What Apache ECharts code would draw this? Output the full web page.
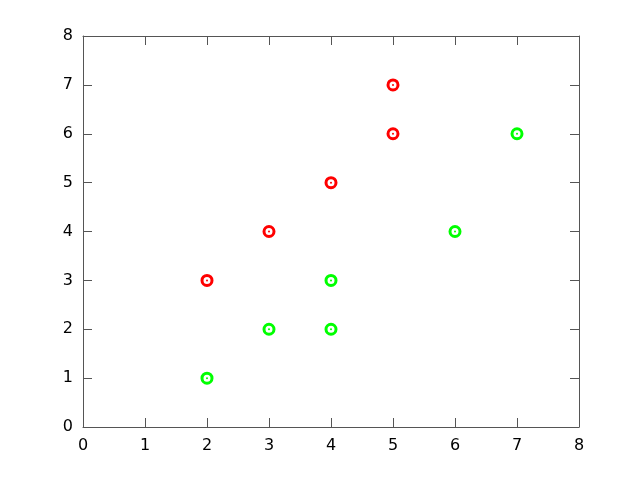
<!DOCTYPE html>
<html><head><meta charset="utf-8">
<script src="https://cdn.jsdelivr.net/npm/echarts@6/dist/echarts.min.js"></script>
<style>html,body{margin:0;padding:0;background:#fff}#c{width:640px;height:480px}</style>
</head><body><div id="c"></div>
<script>
const redPoints = [[2,3],[3,4],[4,5],[5,6],[5,7]];
const greenPoints = [[2,1],[3,2],[4,2],[4,3],[6,4],[7,6]];
const axisMin = 0, axisMax = 8, axisStep = 1;

const chart = echarts.init(document.getElementById('c'), null, {renderer:'canvas'});
const lineStyle = {color:'#555', width:1};
const labelFont = {color:'#000', fontSize:16, fontFamily:'DejaVu Sans'};
function ax(pos, showLabel, isX){
  return {
    type:'value', position:pos, min:axisMin, max:axisMax, interval:axisStep,
    axisLine:{show:true, onZero:false, lineStyle:lineStyle},
    axisTick:{show:true, inside:true, length:9, lineStyle:lineStyle},
    axisLabel:Object.assign({show:showLabel, margin: isX?11:10}, labelFont),
    splitLine:{show:false}
  };
}
function series(data, color){
  return [{
    type:'scatter', data:data, symbol:'circle', symbolSize:10,
    itemStyle:{color:'#fff', borderColor:color, borderWidth:3, opacity:1}, z:2
  },{
    type:'scatter', data:data, symbol:'circle', symbolSize:2,
    itemStyle:{color:color, opacity:1}, z:3, silent:true
  }];
}
chart.setOption({
  animation:false,
  grid:{left:83, right:61, top:36, bottom:53},
  xAxis:[ax('bottom', true, true), ax('top', false, true)],
  yAxis:[ax('left', true, false), ax('right', false, false)],
  series:[...series(redPoints, '#ff0000'), ...series(greenPoints, '#00ff00')]
});
</script></body></html>
